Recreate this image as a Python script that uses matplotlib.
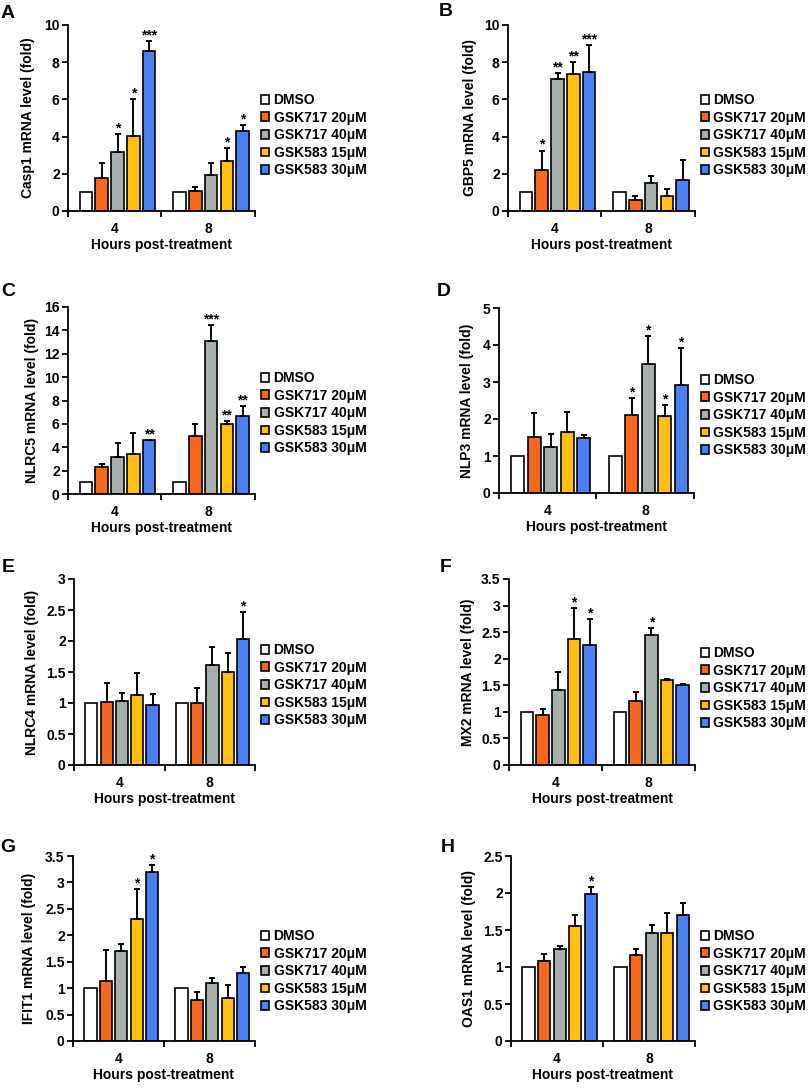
import matplotlib
matplotlib.use('Agg')
import matplotlib.pyplot as plt
import numpy as np
from matplotlib.patches import Patch
from matplotlib.ticker import FixedLocator, FuncFormatter

plt.rcParams['font.family'] = ['Liberation Sans', 'DejaVu Sans']
plt.rcParams['font.weight'] = 'bold'

# ---------------- data ----------------
groups = ['4', '8']
series = ['DMSO', 'GSK717 20μM', 'GSK717 40μM', 'GSK583 15μM', 'GSK583 30μM']
colors = ['#FFFFFF', '#F5681E', '#A7AFAD', '#FFBE10', '#4A80F2']

casp1_4 = [1.0, 1.78, 3.15, 4.02, 8.62]
casp1_4_err = [0, 0.82, 1.0, 1.98, 0.53]
casp1_8 = [1.0, 1.05, 1.95, 2.7, 4.3]
casp1_8_err = [0, 0.23, 0.65, 0.7, 0.3]
casp1_4_sig = ['', '', '*', '*', '***']
casp1_8_sig = ['', '', '', '*', '*']

gbp5_4 = [1.0, 2.22, 7.1, 7.35, 7.5]
gbp5_4_err = [0, 1.03, 0.3, 0.65, 1.4]
gbp5_8 = [1.0, 0.6, 1.5, 0.8, 1.65]
gbp5_8_err = [0, 0.2, 0.4, 0.4, 1.1]
gbp5_4_sig = ['', '*', '**', '**', '***']
gbp5_8_sig = ['', '', '', '', '']

nlrc5_4 = [1.0, 2.35, 3.15, 3.4, 4.6]
nlrc5_4_err = [0, 0.2, 1.25, 1.85, 0.05]
nlrc5_8 = [1.0, 5.0, 13.1, 5.95, 6.7]
nlrc5_8_err = [0, 1.0, 1.35, 0.3, 0.8]
nlrc5_4_sig = ['', '', '', '', '**']
nlrc5_8_sig = ['', '', '***', '**', '**']

nlp3_4 = [1.0, 1.52, 1.25, 1.65, 1.48]
nlp3_4_err = [0, 0.63, 0.35, 0.53, 0.09]
nlp3_8 = [1.0, 2.1, 3.48, 2.07, 2.93]
nlp3_8_err = [0, 0.47, 0.75, 0.31, 1.0]
nlp3_4_sig = ['', '', '', '', '']
nlp3_8_sig = ['', '*', '*', '*', '*']

nlrc4_4 = [1.0, 1.01, 1.03, 1.13, 0.97]
nlrc4_4_err = [0, 0.32, 0.13, 0.35, 0.17]
nlrc4_8 = [1.0, 1.0, 1.61, 1.5, 2.04]
nlrc4_8_err = [0, 0.25, 0.29, 0.3, 0.43]
nlrc4_4_sig = ['', '', '', '', '']
nlrc4_8_sig = ['', '', '', '', '*']

mx2_4 = [1.0, 0.95, 1.41, 2.37, 2.26]
mx2_4_err = [0, 0.11, 0.34, 0.58, 0.49]
mx2_8 = [1.0, 1.21, 2.45, 1.6, 1.51]
mx2_8_err = [0, 0.16, 0.12, 0.02, 0.01]
mx2_4_sig = ['', '', '', '*', '*']
mx2_8_sig = ['', '', '*', '', '']

ifit1_4 = [1.0, 1.13, 1.71, 2.3, 3.19]
ifit1_4_err = [0, 0.6, 0.12, 0.57, 0.14]
ifit1_8 = [1.0, 0.77, 1.1, 0.82, 1.29]
ifit1_8_err = [0, 0.16, 0.1, 0.24, 0.11]
ifit1_4_sig = ['', '', '', '*', '*']
ifit1_8_sig = ['', '', '', '', '']

oas1_4 = [1.0, 1.08, 1.25, 1.55, 1.98]
oas1_4_err = [0, 0.1, 0.04, 0.15, 0.1]
oas1_8 = [1.0, 1.16, 1.46, 1.46, 1.7]
oas1_8_err = [0, 0.08, 0.11, 0.27, 0.17]
oas1_4_sig = ['', '', '', '', '*']
oas1_8_sig = ['', '', '', '', '']

ylabels = ['Casp1 mRNA level (fold)', 'GBP5 mRNA level (fold)',
           'NLRC5 mRNA level (fold)', 'NLP3 mRNA level (fold)',
           'NLRC4 mRNA level (fold)', 'MX2 mRNA level (fold)',
           'IFIT1 mRNA level (fold)', 'OAS1 mRNA level (fold)']
letters = ['A', 'B', 'C', 'D', 'E', 'F', 'G', 'H']
yticks_A = [0, 2, 4, 6, 8, 10]
yticks_C = [0, 2, 4, 6, 8, 10, 12, 14, 16]
yticks_D = [0, 1, 2, 3, 4, 5]
yticks_E = [0, 0.5, 1, 1.5, 2, 2.5, 3]
yticks_F = [0, 0.5, 1, 1.5, 2, 2.5, 3, 3.5]
yticks_H = [0, 0.5, 1, 1.5, 2, 2.5]

panels = [
    (casp1_4, casp1_4_err, casp1_8, casp1_8_err, casp1_4_sig, casp1_8_sig, yticks_A),
    (gbp5_4, gbp5_4_err, gbp5_8, gbp5_8_err, gbp5_4_sig, gbp5_8_sig, yticks_A),
    (nlrc5_4, nlrc5_4_err, nlrc5_8, nlrc5_8_err, nlrc5_4_sig, nlrc5_8_sig, yticks_C),
    (nlp3_4, nlp3_4_err, nlp3_8, nlp3_8_err, nlp3_4_sig, nlp3_8_sig, yticks_D),
    (nlrc4_4, nlrc4_4_err, nlrc4_8, nlrc4_8_err, nlrc4_4_sig, nlrc4_8_sig, yticks_E),
    (mx2_4, mx2_4_err, mx2_8, mx2_8_err, mx2_4_sig, mx2_8_sig, yticks_F),
    (ifit1_4, ifit1_4_err, ifit1_8, ifit1_8_err, ifit1_4_sig, ifit1_8_sig, yticks_F),
    (oas1_4, oas1_4_err, oas1_8, oas1_8_err, oas1_4_sig, oas1_8_sig, yticks_H),
]

# ---------------- layout (pixels) ----------------
W, H = 812, 1088
# left, right, top, bottom
boxes = [(68, 255, 25, 211), (508, 695, 25, 211),
         (68, 255, 307, 494), (499, 694, 308, 493),
         (74, 255, 579, 765), (509, 695, 579, 765),
         (73, 255, 856, 1041), (511, 695, 856, 1041)]
ylabel_x = [28, 470, 32, 467, 32, 468, 29, 469]
letter_pos = [(8, 14), (446, 12), (8, 292), (444, 292),
              (8, 567), (446, 567), (8, 847), (448, 847)]
legend_pos = [(261, 101), (701, 101), (261, 379), (701, 381),
              (261, 651), (701, 654), (261, 937), (701, 937)]

fig = plt.figure(figsize=(W / 100, H / 100), dpi=100)
fig.patch.set_facecolor('white')

pitch = 0.169
bw = 0.134
offset = 0.03

for k, (v4, e4, v8, e8, s4, s8, yt) in enumerate(panels):
    l, r, t, b = boxes[k]
    ax = fig.add_axes([l / W, 1 - b / H, (r - l) / W, (b - t) / H])
    vals = [v4, v8]
    errs = [e4, e8]
    sigs = [s4, s8]
    for gi in range(2):
        center = gi + 0.5 + offset
        for si in range(5):
            x = center + (si - 2) * pitch
            v = vals[gi][si]
            e = errs[gi][si]
            ax.bar(x, v, width=bw, color=colors[si], edgecolor='black',
                   linewidth=1.2, zorder=2)
            if e > 0:
                ax.errorbar(x, v, yerr=[[0], [e]], fmt='none', ecolor='black',
                            elinewidth=1.4, capsize=2.2, capthick=1.4, zorder=3)
            if sigs[gi][si]:
                ax.annotate(sigs[gi][si], (x, v + e), xytext=(0, -1),
                            textcoords='offset points', ha='center', va='bottom',
                            fontsize=10, fontweight='bold')
    ax.set_xlim(0, 2)
    ax.set_ylim(yt[0], yt[-1])
    ax.set_yticks(yt)
    ax.yaxis.set_major_formatter(FuncFormatter(lambda v, p: f"{v:g}"))
    ax.xaxis.set_major_locator(FixedLocator([0, 1, 2]))
    ax.xaxis.set_minor_locator(FixedLocator([0.5, 1.5]))
    ax.set_xticklabels([], minor=False)
    ax.set_xticklabels(groups, minor=True)
    ax.tick_params(axis='x', which='major', length=4, width=1.3, direction='out')
    ax.tick_params(axis='x', which='minor', length=0, pad=8, labelsize=10)
    ax.tick_params(axis='y', length=4, width=1.3, direction='out', labelsize=10, pad=2)
    for lab in ax.get_xticklabels(minor=True) + ax.get_yticklabels():
        lab.set_fontweight('bold')
    for sp in ['top', 'right']:
        ax.spines[sp].set_visible(False)
    for sp in ['left', 'bottom']:
        ax.spines[sp].set_linewidth(1.3)
    ax.patch.set_alpha(0)

    # labels
    fig.text(ylabel_x[k] / W, 1 - ((t + b) / 2) / H, ylabels[k], rotation=90,
             ha='center', va='center', fontsize=10, fontweight='bold')
    fig.text(((l + r) / 2) / W, 1 - (b + 34) / H, 'Hours post-treatment',
             ha='center', va='center', fontsize=10, fontweight='bold')
    lx, ly = letter_pos[k]
    fig.text(lx / W, 1 - ly / H, letters[k], ha='center', va='center',
             fontsize=14, fontweight='bold')

    handles = [Patch(facecolor=c, edgecolor='black', linewidth=1.2) for c in colors]
    gx, gy = legend_pos[k]
    leg = fig.legend(handles, series, loc='upper left',
                     bbox_to_anchor=(gx / W, 1 - (gy - 8) / H),
                     bbox_transform=fig.transFigure, frameon=False,
                     borderpad=0, borderaxespad=0, handlelength=0.6,
                     handleheight=0.6, handletextpad=0.3, labelspacing=0.26,
                     prop={'size': 10, 'weight': 'bold'})

fig.savefig('out.png', dpi=100, facecolor='white')
